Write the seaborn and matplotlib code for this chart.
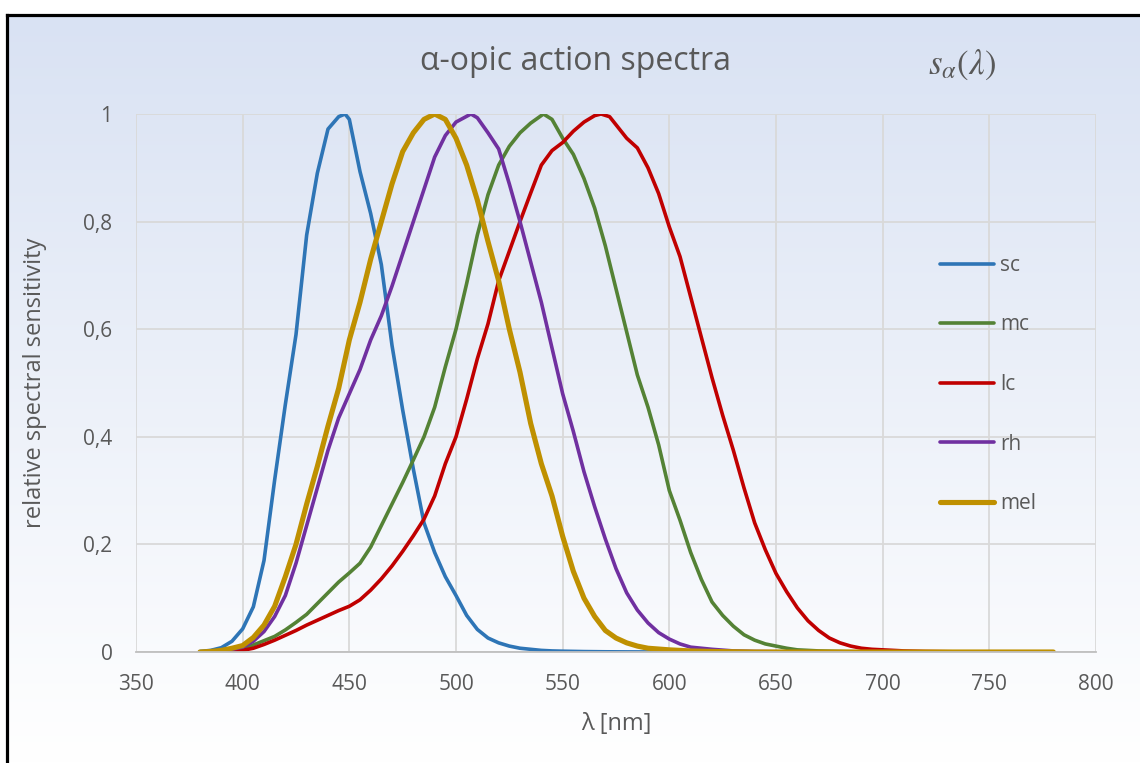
import numpy as np
import matplotlib
matplotlib.use("Agg")
import matplotlib.pyplot as plt
from matplotlib.colors import LinearSegmentedColormap
import seaborn as sns

# alpha-opic action spectra
wl_sc = [380, 385, 390, 395, 400, 405, 410, 415, 420, 425, 430, 435, 440, 445, 448, 450,
         455, 460, 465, 470, 475, 480, 485, 490, 495, 500, 505, 510, 515, 520, 525,
         530, 535, 540, 545, 550, 560, 570, 580, 600, 700, 780]
sc = [0.001, 0.003, 0.008, 0.02, 0.043, 0.084, 0.17, 0.32, 0.46, 0.59, 0.775, 0.89, 0.972, 0.995, 1.0, 0.99,
      0.893, 0.815, 0.72, 0.57, 0.45, 0.34, 0.24, 0.185, 0.14, 0.105, 0.068, 0.042, 0.026, 0.017, 0.011,
      0.007, 0.005, 0.003, 0.002, 0.0015, 0.0008, 0.0004, 0.0002, 0.0, 0.0, 0.0]

wl_mc = [380, 385, 390, 395, 400, 405, 410, 415, 420, 425, 430, 435, 440, 445, 450,
         455, 460, 465, 470, 475, 480, 485, 490, 495, 500, 505, 510, 515, 520, 525,
         530, 535, 541, 545, 550, 555, 560, 565, 570, 575, 580, 585, 590, 595, 600,
         605, 610, 615, 620, 625, 630, 635, 640, 645, 650, 655, 660, 670, 680, 690, 780]
mc = [0.0, 0.001, 0.002, 0.004, 0.006, 0.013, 0.021, 0.029, 0.041, 0.055, 0.07, 0.09, 0.11, 0.13, 0.147,
      0.165, 0.195, 0.235, 0.275, 0.315, 0.357, 0.40, 0.455, 0.53, 0.60, 0.685, 0.775, 0.85, 0.905, 0.94,
      0.965, 0.983, 1.0, 0.99, 0.955, 0.925, 0.88, 0.825, 0.755, 0.675, 0.595, 0.515, 0.455, 0.385, 0.30,
      0.245, 0.185, 0.135, 0.093, 0.068, 0.048, 0.032, 0.022, 0.015, 0.011, 0.007, 0.004, 0.002, 0.001, 0.0, 0.0]

wl_lc = [380, 385, 390, 395, 400, 405, 410, 415, 420, 425, 430, 435, 440, 445, 450,
         455, 460, 465, 470, 475, 480, 485, 490, 495, 500, 505, 510, 515, 520, 525,
         530, 535, 540, 545, 550, 555, 560, 565, 568, 572, 575, 580, 585, 590, 595, 600,
         605, 610, 615, 620, 625, 630, 635, 640, 645, 650, 655, 660, 665, 670, 675,
         680, 685, 690, 695, 700, 710, 720, 740, 780]
lc = [0.0, 0.0, 0.001, 0.002, 0.003, 0.007, 0.014, 0.022, 0.031, 0.04, 0.05, 0.059, 0.068, 0.077, 0.085,
      0.097, 0.115, 0.136, 0.16, 0.187, 0.216, 0.247, 0.29, 0.35, 0.40, 0.47, 0.545, 0.61, 0.69, 0.745,
      0.80, 0.853, 0.905, 0.932, 0.947, 0.968, 0.985, 0.997, 1.0, 0.995, 0.98, 0.955, 0.937, 0.90, 0.852, 0.79,
      0.735, 0.66, 0.585, 0.51, 0.44, 0.375, 0.305, 0.24, 0.19, 0.146, 0.112, 0.082, 0.058, 0.04, 0.026,
      0.017, 0.011, 0.007, 0.005, 0.004, 0.002, 0.001, 0.0, 0.0]

wl_rh = [380, 385, 390, 395, 400, 405, 410, 415, 420, 425, 430, 435, 440, 445, 450,
         455, 460, 465, 470, 475, 480, 485, 490, 495, 500, 507, 510, 515, 520, 525,
         530, 535, 540, 545, 550, 555, 560, 565, 570, 575, 580, 585, 590, 595, 600,
         605, 610, 620, 630, 640, 660, 780]
rh = [0.0, 0.001, 0.002, 0.005, 0.009, 0.02, 0.038, 0.066, 0.105, 0.165, 0.235, 0.305, 0.375, 0.435, 0.48,
      0.525, 0.58, 0.625, 0.68, 0.74, 0.80, 0.86, 0.92, 0.96, 0.985, 1.0, 0.993, 0.965, 0.935, 0.87,
      0.80, 0.725, 0.65, 0.565, 0.48, 0.41, 0.335, 0.27, 0.21, 0.155, 0.11, 0.078, 0.054, 0.036, 0.024,
      0.015, 0.009, 0.005, 0.002, 0.001, 0.0, 0.0]

wl_mel = [380, 385, 390, 395, 400, 405, 410, 415, 420, 425, 430, 435, 440, 445, 450,
          455, 460, 465, 470, 475, 480, 485, 490, 495, 500, 505, 510, 515, 520, 525,
          530, 535, 540, 545, 550, 555, 560, 565, 570, 575, 580, 585, 590, 600, 610,
          620, 640, 780]
mel = [0.0, 0.001, 0.003, 0.007, 0.012, 0.027, 0.05, 0.085, 0.14, 0.2, 0.275, 0.345, 0.42, 0.49, 0.58,
       0.65, 0.73, 0.80, 0.87, 0.93, 0.965, 0.99, 1.0, 0.99, 0.955, 0.905, 0.84, 0.763, 0.69, 0.60,
       0.52, 0.425, 0.35, 0.29, 0.215, 0.15, 0.10, 0.066, 0.04, 0.026, 0.017, 0.011, 0.007, 0.004, 0.002,
       0.001, 0.0, 0.0]

x_ticks = [350, 400, 450, 500, 550, 600, 650, 700, 750, 800]
y_ticks = [0, 0.2, 0.4, 0.6, 0.8, 1.0]
y_tick_labels = ["0", "0,2", "0,4", "0,6", "0,8", "1"]

series = [
    ("sc", wl_sc, sc, "#2E75B6", 2.6),
    ("mc", wl_mc, mc, "#548235", 2.6),
    ("lc", wl_lc, lc, "#C00000", 2.6),
    ("rh", wl_rh, rh, "#7030A0", 2.6),
    ("mel", wl_mel, mel, "#BF9000", 3.7),
]

sns.set_theme(style="white")
plt.rcParams["font.family"] = ["Open Sans", "DejaVu Sans"]
plt.rcParams["mathtext.fontset"] = "stix"
TXT = "#595959"

W, H = 1140, 763
fig = plt.figure(figsize=(W / 100, H / 100), dpi=100)

# gradient background with black frame
bg = fig.add_axes([0, 0, 1, 1], zorder=-10)
cmap = LinearSegmentedColormap.from_list("bg", ["#D9E2F3", "#FFFFFF"])
grad = np.linspace(0, 1, 256).reshape(-1, 1)
bg.imshow(grad, cmap=cmap, aspect="auto", origin="upper",
          extent=[7 / W, 1, 0, 1 - 15 / H])
bg.plot([7 / W, 7 / W], [0, 1 - 15 / H], color="black", lw=2.3, solid_capstyle="projecting")
bg.plot([7 / W, 1], [1 - 15 / H, 1 - 15 / H], color="black", lw=2.3, solid_capstyle="projecting")
bg.set_xlim(0, 1)
bg.set_ylim(0, 1)
bg.axis("off")

ax = fig.add_axes([136 / W, 1 - 652 / H, 960 / W, 538 / H])
ax.patch.set_alpha(0)

for name, wl, vals, color, lw in series:
    sns.lineplot(x=wl, y=vals, ax=ax, color=color, linewidth=lw, label=name,
                 sort=False, estimator=None, solid_capstyle="round",
                 solid_joinstyle="round")

ax.set_xlim(350, 800)
ax.set_ylim(0, 1)
ax.set_xticks(x_ticks)
ax.set_yticks(y_ticks)
ax.set_yticklabels(y_tick_labels)
ax.set_axisbelow(True)
ax.grid(True, color="#D9D9D9", linewidth=1.3)
for side in ["left", "right", "top"]:
    ax.spines[side].set_visible(False)
ax.spines["bottom"].set_color("#BFBFBF")
ax.spines["bottom"].set_linewidth(1.3)
ax.tick_params(axis="x", length=0, labelsize=15, colors=TXT, pad=16)
ax.tick_params(axis="y", length=0, labelsize=15, colors=TXT, pad=17)
ax.set_xlabel("")
ax.set_ylabel("")

ax.legend(loc="center left", bbox_to_anchor=(940 / W, 1 - 384.5 / H),
          bbox_transform=fig.transFigure, frameon=False, fontsize=15,
          handlelength=2.6, handletextpad=0.3, labelspacing=1.85,
          borderpad=0, borderaxespad=0, labelcolor=TXT)

fig.text(576 / W, 1 - 61 / H, "α-opic action spectra", ha="center", va="center",
         fontsize=23, color=TXT)
fig.text(962 / W, 1 - 65 / H, r"$s_{\alpha}(\lambda)$", ha="center", va="center",
         fontsize=25, color=TXT)
fig.text(35 / W, 1 - 383 / H, "relative spectral sensitivity", rotation=90,
         ha="center", va="center", fontsize=17, color=TXT)
fig.text(616 / W, 1 - 724 / H, "λ [nm]", ha="center", va="center",
         fontsize=17, color=TXT)

fig.savefig("out.png", dpi=100)
